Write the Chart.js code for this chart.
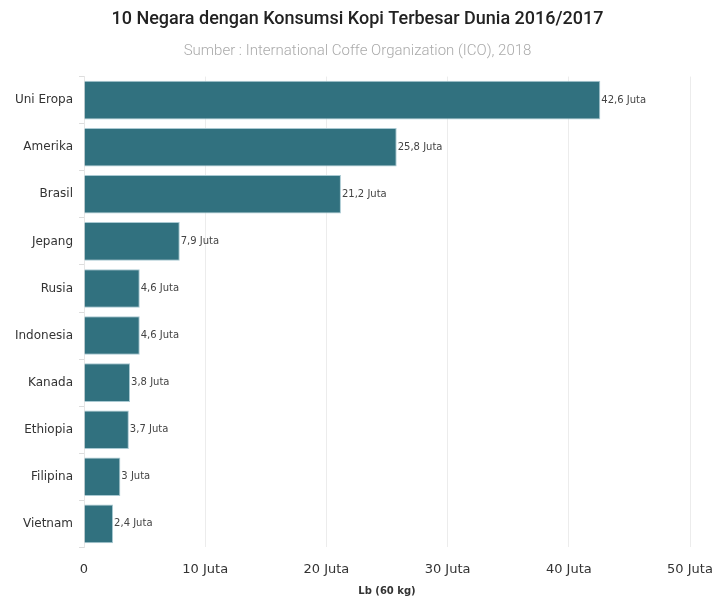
<!DOCTYPE html>
<html><head><meta charset="utf-8">
<script src="https://cdn.jsdelivr.net/npm/chart.js@4/dist/chart.umd.min.js"></script>
<style>html,body{margin:0;padding:0;background:#fff;}#wrap{width:715px;height:599px;}</style>
</head><body><div id="wrap"><canvas id="c" width="715" height="599"></canvas></div>
<script>
const categories = ["Uni Eropa","Amerika","Brasil","Jepang","Rusia","Indonesia","Kanada","Ethiopia","Filipina","Vietnam"];
const values = [42.6, 25.8, 21.2, 7.9, 4.6, 4.6, 3.8, 3.7, 3, 2.4];
const valueLabels = ["42,6 Juta","25,8 Juta","21,2 Juta","7,9 Juta","4,6 Juta","4,6 Juta","3,8 Juta","3,7 Juta","3 Juta","2,4 Juta"];
const xTickValues = [0, 10, 20, 30, 40, 50];

const labelPlugin = {
  id: 'barLabels',
  afterDatasetsDraw(chart) {
    const ctx = chart.ctx;
    const meta = chart.getDatasetMeta(0);
    ctx.save();
    ctx.font = '10px "DejaVu Sans", Verdana, sans-serif';
    ctx.fillStyle = '#444';
    ctx.textAlign = 'left';
    ctx.textBaseline = 'middle';
    meta.data.forEach((bar, i) => {
      ctx.fillText(valueLabels[i], bar.x + 1, bar.y);
    });
    ctx.restore();
  }
};

new Chart(document.getElementById('c'), {
  type: 'bar',
  data: {
    labels: categories,
    datasets: [{
      data: values,
      backgroundColor: '#31717f',
      borderColor: '#a9c9d2',
      borderWidth: 1,
      barPercentage: 0.82,
      categoryPercentage: 1.0
    }]
  },
  options: {
    indexAxis: 'y',
    responsive: false,
    animation: false,
    layout: { padding: { left: 0, right: 0, top: 0, bottom: 2 } },
    plugins: {
      legend: { display: false },
      tooltip: { enabled: false },
      title: {
        display: true,
        text: '10 Negara dengan Konsumsi Kopi Terbesar Dunia 2016/2017',
        font: { family: 'Roboto, sans-serif', size: 18, weight: '500' },
        color: '#222',
        padding: { top: 9, bottom: 12 }
      },
      subtitle: {
        display: true,
        text: 'Sumber : International Coffe Organization (ICO), 2018',
        font: { family: 'Roboto, sans-serif', size: 15, weight: '300' },
        color: '#aaa',
        padding: { top: 0, bottom: 16 }
      }
    },
    scales: {
      x: {
        min: 0, max: 50,
        afterBuildTicks: s => { s.ticks = xTickValues.map(v => ({ value: v })); },
        ticks: {
          callback: v => v === 0 ? '0' : v + ' Juta',
          font: { family: '"DejaVu Sans", Verdana, sans-serif', size: 13 },
          color: '#333',
          padding: 14,
          maxRotation: 0
        },
        grid: { color: '#ececec', drawTicks: false, lineWidth: 1 },
        border: { display: false },
        title: {
          display: true,
          text: 'Lb (60 kg)',
          font: { family: '"DejaVu Sans", Verdana, sans-serif', size: 10, weight: 'bold' },
          color: '#333',
          padding: { top: -6, bottom: 0 }
        },
        afterFit: s => { s.paddingRight = 25; }
      },
      y: {
        ticks: {
          font: { family: '"DejaVu Sans", Verdana, sans-serif', size: 12 },
          color: '#333',
          padding: 6
        },
        grid: { drawOnChartArea: false, drawTicks: true, tickLength: 5, color: '#ddd' },
        border: { display: true, color: '#e6e6e6' },
        afterFit: s => { s.width = 84; }
      }
    }
  },
  plugins: [labelPlugin]
});
</script></body></html>
